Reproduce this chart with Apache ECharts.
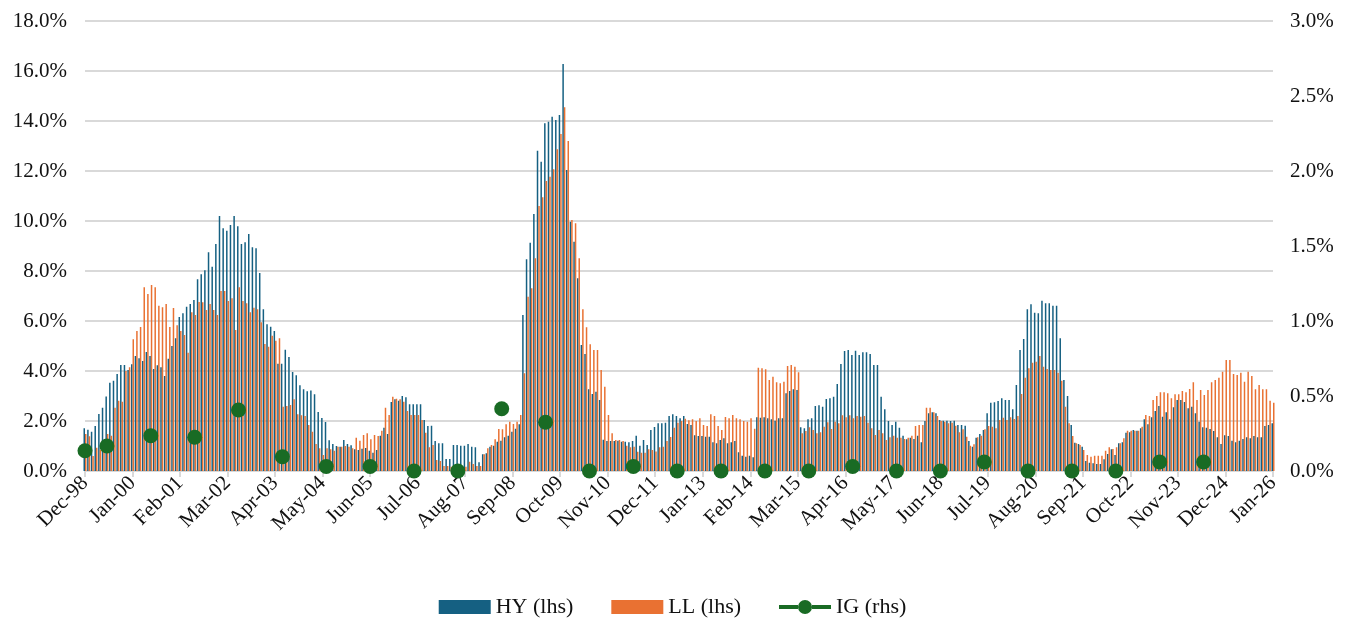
<!DOCTYPE html>
<html>
<head>
<meta charset="utf-8">
<script src="https://cdn.jsdelivr.net/npm/echarts@6/dist/echarts.min.js"></script>
<style>
html,body{margin:0;padding:0;background:#ffffff;}
#chart{width:1345px;height:620px;}
</style>
</head>
<body>
<div id="chart"></div>
<script>
// ---- Categories: monthly, Dec-98 .. Jan-26 ----
const MONTH_NAMES = ['Jan','Feb','Mar','Apr','May','Jun','Jul','Aug','Sep','Oct','Nov','Dec'];
const START_YEAR = 1998, START_MONTH = 11, N_MONTHS = 326;
const categories = [];
for (let k = 0; k < N_MONTHS; k++) {
  const m = (START_MONTH + k) % 12;
  const y = START_YEAR + Math.floor((START_MONTH + k) / 12);
  categories.push(MONTH_NAMES[m] + '-' + String(y % 100).padStart(2, '0'));
}

// ---- HY default rate (%), lhs ----
const hy = [
  1.71,                                                                 // Dec-98
  1.65,1.57,1.80,2.28,2.53,2.98,3.53,3.61,3.88,4.24,4.24,4.04,          // 1999
  4.27,4.60,4.51,4.40,4.76,4.60,4.08,4.23,4.15,3.80,4.49,5.00,          // 2000
  5.31,6.16,6.31,6.57,6.68,6.84,7.67,7.87,8.03,8.75,8.17,9.08,          // 2001
  10.2,9.71,9.61,9.84,10.2,9.79,9.08,9.15,9.48,8.95,8.91,7.92,          // 2002
  6.47,5.87,5.77,5.60,4.29,4.29,4.85,4.56,3.96,3.83,3.43,3.27,          // 2003
  3.19,3.22,3.07,2.36,2.12,1.96,1.23,1.08,1.00,0.97,1.24,1.08,          // 2004
  1.03,0.87,0.84,0.89,0.92,0.81,0.73,0.84,1.41,1.73,1.48,2.76,          // 2005
  2.87,2.81,3.00,2.95,2.67,2.67,2.67,2.67,2.04,1.80,1.81,1.20,          // 2006
  1.11,1.11,0.48,0.48,1.04,1.04,1.01,1.01,1.08,0.97,0.95,0.35,          // 2007
  0.67,0.71,0.97,1.01,1.17,1.21,1.35,1.41,1.57,1.69,1.87,6.24,          // 2008
  8.47,9.13,10.28,12.81,12.37,13.91,13.97,14.17,14.04,14.24,16.28,12.04,// 2009
  9.97,9.17,7.71,5.04,4.68,3.27,3.08,3.17,2.84,1.25,1.20,1.20,          // 2010
  1.20,1.21,1.17,1.17,1.15,1.20,1.41,1.01,1.24,1.04,1.64,1.76,          // 2011
  1.91,1.91,1.93,2.20,2.27,2.20,2.11,2.20,1.88,1.84,1.43,1.40,          // 2012
  1.40,1.37,1.37,1.15,1.11,1.24,1.31,1.11,1.15,1.20,0.75,0.61,          // 2013
  0.57,0.61,0.55,2.15,2.13,2.15,2.11,2.07,2.01,2.11,2.11,3.11,          // 2014
  3.20,3.27,3.24,1.75,1.71,2.07,2.11,2.60,2.63,2.57,2.88,2.91,          // 2015
  2.97,3.48,4.28,4.80,4.84,4.64,4.81,4.64,4.75,4.75,4.68,4.24,          // 2016
  4.24,2.97,2.47,2.00,1.84,1.97,1.73,1.41,1.27,1.33,1.28,1.41,          // 2017
  1.15,2.00,2.31,2.35,2.31,2.04,2.01,2.01,2.00,2.01,1.84,1.84,          // 2018
  1.81,1.20,0.97,1.33,1.48,1.64,2.31,2.73,2.75,2.80,2.91,2.84,          // 2019
  2.84,2.47,3.44,4.84,5.28,6.47,6.67,6.33,6.31,6.81,6.71,6.71,          // 2020
  6.61,6.61,5.31,3.64,3.00,1.84,1.13,1.08,0.97,0.40,0.33,0.31,          // 2021
  0.28,0.28,0.47,0.68,0.87,0.64,1.11,1.15,1.53,1.55,1.64,1.61,          // 2022
  1.71,2.07,1.87,2.15,2.40,2.60,2.17,2.35,2.07,2.55,2.84,2.84,          // 2023
  2.76,2.51,2.57,2.31,1.97,1.75,1.73,1.68,1.60,1.35,1.08,1.43,          // 2024
  1.40,1.21,1.15,1.21,1.28,1.35,1.31,1.40,1.35,1.35,1.80,1.84,          // 2025
  1.91                                                                  // Jan-26
];

// ---- Leveraged loan default rate (%), lhs ----
const ll = [
  1.48,                                                                 // Dec-98
  1.39,0.60,0.93,0.84,0.95,1.48,1.41,2.53,2.81,2.77,4.00,4.15,          // 1999
  5.27,5.60,5.76,7.35,7.08,7.44,7.35,6.61,6.55,6.68,5.76,6.52,          // 2000
  5.83,5.60,5.44,4.73,6.35,6.24,6.76,6.75,6.44,6.68,6.44,6.24,          // 2001
  7.20,7.20,6.80,6.91,5.64,7.35,6.80,6.71,6.35,6.53,6.47,5.95,          // 2002
  5.08,4.97,5.41,5.21,5.31,2.57,2.60,2.64,2.87,2.27,2.23,2.20,          // 2003
  1.84,1.57,1.08,0.91,0.64,0.91,0.87,0.81,0.97,0.97,1.00,0.97,          // 2004
  0.91,1.33,1.21,1.44,1.51,1.27,1.44,1.40,1.61,2.53,2.24,2.97,          // 2005
  2.89,2.87,2.77,2.40,2.24,2.24,2.24,2.04,1.53,0.95,1.04,0.44,          // 2006
  0.40,0.20,0.20,0.17,0.17,0.20,0.20,0.17,0.37,0.28,0.20,0.20,          // 2007
  0.67,0.91,1.04,1.27,1.68,1.67,1.87,1.97,1.88,1.97,2.24,3.91,          // 2008
  6.97,7.31,8.51,10.60,10.95,11.60,11.77,12.07,12.87,13.48,14.55,13.20, // 2009
  10.04,9.91,8.51,6.47,5.75,5.07,4.84,4.84,4.04,3.37,2.24,1.51,         // 2010
  1.24,1.24,1.20,1.01,0.95,0.97,0.77,0.73,0.73,0.87,0.84,0.78,          // 2011
  0.95,0.97,1.20,1.36,1.73,1.93,2.00,2.09,2.03,2.07,2.00,2.11,          // 2012
  1.84,1.80,2.27,2.20,1.80,1.64,2.16,2.11,2.24,2.11,2.07,2.00,          // 2013
  1.97,2.11,1.69,4.13,4.11,4.07,3.64,3.77,3.55,3.51,3.57,4.20,          // 2014
  4.24,4.17,3.95,1.51,1.60,1.75,1.64,1.51,1.55,1.77,1.95,1.68,          // 2015
  1.97,1.91,2.23,2.15,2.23,2.11,2.20,2.17,2.20,1.93,1.71,1.44,          // 2016
  1.64,1.51,1.24,1.35,1.41,1.33,1.33,1.28,1.33,1.41,1.80,1.84,          // 2017
  1.84,2.53,2.53,2.35,2.20,2.00,1.97,1.91,1.93,1.81,1.55,1.67,          // 2018
  1.37,1.01,1.07,1.35,1.41,1.67,1.80,1.77,1.71,2.04,2.13,2.04,          // 2019
  2.15,2.08,2.20,3.08,3.73,4.11,4.33,4.37,4.60,4.17,4.08,4.04,          // 2020
  4.04,3.93,3.61,2.57,1.91,1.40,1.11,1.04,0.84,0.64,0.57,0.61,          // 2021
  0.61,0.61,0.81,0.95,0.88,0.95,1.11,1.31,1.61,1.61,1.61,1.61,          // 2022
  1.77,2.24,2.20,2.84,3.00,3.15,3.15,3.11,2.91,3.07,3.07,3.20,          // 2023
  3.15,3.28,3.55,2.84,3.24,3.04,3.24,3.55,3.64,3.73,3.97,4.44,          // 2024
  4.44,3.88,3.84,3.93,3.57,3.97,3.80,3.27,3.44,3.27,3.27,2.81,          // 2025
  2.73                                                                  // Jan-26
];

// ---- IG default rate (%), rhs: observations ----
const igDates = ['Dec-98','Jun-99','Jun-00','Jun-01','Jun-02','Jun-03','Jun-04','Jun-05','Jun-06',
                 'Jun-07','Jun-08','Jun-09','Jun-10','Jun-11','Jun-12','Jun-13','Jun-14','Jun-15',
                 'Jun-16','Jun-17','Jun-18','Jun-19','Jun-20','Jun-21','Jun-22','Jun-23','Jun-24'];
const igValues = [0.135,0.167,0.235,0.225,0.407,0.095,0.03,0.03,0.0,
                  0.0,0.415,0.325,0.0,0.03,0.0,0.0,0.0,0.0,
                  0.03,0.0,0.0,0.06,0.0,0.0,0.0,0.06,0.06];

// ---- Axis ticks ----
const leftTicks = {min:0, max:18, interval:2};
const rightTicks = {min:0, max:3, interval:0.5};

const igData = categories.map(c => {
  const j = igDates.indexOf(c);
  return j >= 0 ? igValues[j] : null;
});

const FONT = 'Liberation Serif';
const TXT = '#111111';
const GRID_C = '#d9d9d9';
const IG_ICON = 'path://M0,5 L19,5 L19,9 L0,9 Z M33,5 L52,5 L52,9 L33,9 Z M19,7 A7,7 0 1,1 33,7 A7,7 0 1,1 19,7 Z';

const chart = echarts.init(document.getElementById('chart'), null, {renderer:'canvas'});
chart.setOption({
  animation:false,
  backgroundColor:'#ffffff',
  textStyle:{fontFamily:FONT},
  grid:{left:85, right:72, top:21, bottom:149, containLabel:false},
  legend:{
    data:[{name:'HY (lhs)', icon:'rect'},{name:'LL (lhs)', icon:'rect'},{name:'IG (rhs)', icon:IG_ICON}],
    left:'center', top:591, selectedMode:false,
    itemWidth:52, itemHeight:14, itemGap:38,
    textStyle:{fontFamily:FONT, fontSize:22, color:TXT}
  },
  xAxis:{
    type:'category', data:categories, boundaryGap:false,
    axisLine:{show:true, lineStyle:{color:GRID_C, width:2}},
    axisTick:{show:true, interval:12, length:6, lineStyle:{color:GRID_C, width:2}},
    axisLabel:{interval:12, rotate:45, margin:9, fontFamily:FONT, fontSize:21, color:TXT},
    splitLine:{show:false}
  },
  yAxis:[
    {type:'value', min:leftTicks.min, max:leftTicks.max, interval:leftTicks.interval,
     axisLine:{show:false}, axisTick:{show:false},
     axisLabel:{formatter:v => v.toFixed(1)+'%', margin:18, fontFamily:FONT, fontSize:21, color:TXT},
     splitLine:{show:true, lineStyle:{color:GRID_C, width:2}}},
    {type:'value', min:rightTicks.min, max:rightTicks.max, interval:rightTicks.interval, position:'right',
     axisLine:{show:false}, axisTick:{show:false},
     axisLabel:{formatter:v => v.toFixed(1)+'%', margin:17, fontFamily:FONT, fontSize:21, color:TXT},
     splitLine:{show:false}}
  ],
  series:[
    {name:'HY (lhs)', type:'bar', data:hy, barWidth:1.5, barGap:'0%',
     itemStyle:{color:'#156082'}},
    {name:'LL (lhs)', type:'bar', data:ll, barWidth:1.5, barGap:'0%',
     itemStyle:{color:'#E97132'}},
    {name:'IG (rhs)', type:'line', yAxisIndex:1, data:igData, connectNulls:false,
     symbol:'circle', symbolSize:15, showSymbol:true, showAllSymbol:true,
     lineStyle:{color:'#196B24', width:5}, itemStyle:{color:'#196B24'}, z:5}
  ]
});
</script>
</body>
</html>
